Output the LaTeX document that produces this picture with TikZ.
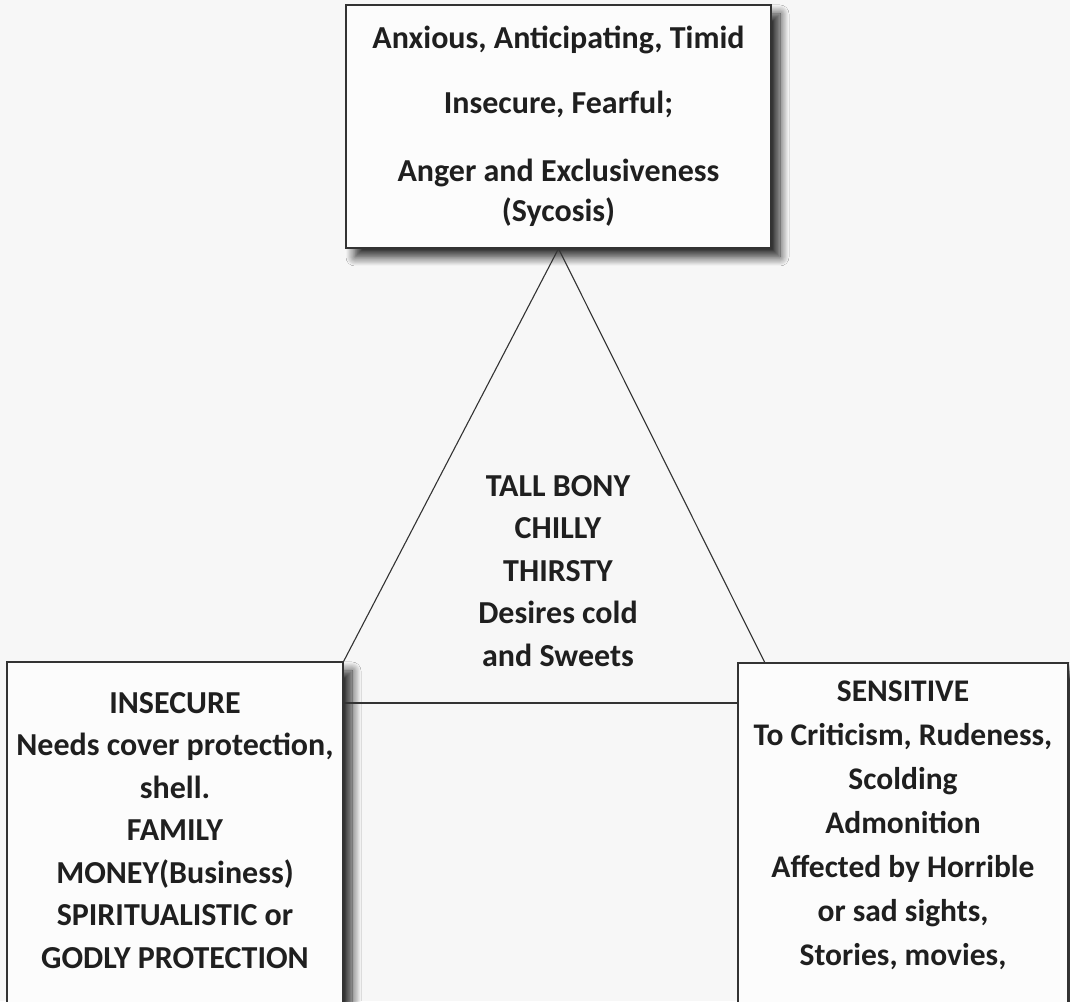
\documentclass[tikz,border=0pt]{standalone}
\usepackage{fontspec}
\setmainfont{Carlito}
\usepackage{tikz}
\usetikzlibrary{shadows.blur}

\tikzset{
	box/.style = {draw = black!80, line width = 1.2pt, fill = black!1, align = flush center,
		text width = #1, inner xsep = 0pt, text = black!88,
		font = \bfseries\fontsize{32}{43}\selectfont,
		blur shadow = {shadow xshift = 9pt, shadow yshift = -9pt, shadow blur radius = 9pt, shadow blur steps = 12, shadow opacity = 85}},
	side/.style = {draw = black!80, line width = 1.1pt},
}

\begin{document}
\begin{tikzpicture}[x = 1pt, y = 1pt]
			%page
			\useasboundingbox (0,0) rectangle (1070,1001);
			\clip (0,0) rectangle (1070,1001);
			\fill[black!3] (0,0) rectangle (1070,1001);
			%the three boxes
			\node[box = 425pt, minimum height = 243pt, font = \bfseries\fontsize{32}{40}\selectfont] (top) at (558.5,874.5)
				{Anxious, Anticipating, Timid\\[25pt] Insecure, Fearful;\\[28pt] Anger and Exclusiveness\\ (Sycosis)};
			\node[box = 336pt, minimum height = 377pt, font = \bfseries\fontsize{32}{42.5}\selectfont] (left) at (175,150.5)
				{INSECURE\\ Needs cover protection,\\ shell.\\ FAMILY\\ MONEY(Business)\\ SPIRITUALISTIC or\\ GODLY PROTECTION\par\vspace{40pt}};
			\node[box = 330pt, minimum height = 365pt, font = \bfseries\fontsize{31.5}{44}\selectfont] (right) at (903,155.5)
				{SENSITIVE\\ To Criticism, Rudeness,\\ Scolding\\ Admonition\\ Affected by Horrible\\ or sad sights,\\ Stories, movies,\par\vspace{40pt}};
			%triangle
			\coordinate (rfoot) at (765,338);
			\coordinate (lvl) at (0,298);
			\draw[side] (top.south) -- (left.north east);
			\draw[side] (top.south) -- (rfoot);
			\draw[side] (left.east |- lvl) -- (right.west |- lvl);
			%body type
			\node[align = flush center, text = black!88, font = \bfseries\fontsize{32}{42.5}\selectfont] (traits) at (558,430)
				{TALL BONY\\ CHILLY\\ THIRSTY\\ Desires cold\\ and Sweets};
		\end{tikzpicture}
\end{document}
